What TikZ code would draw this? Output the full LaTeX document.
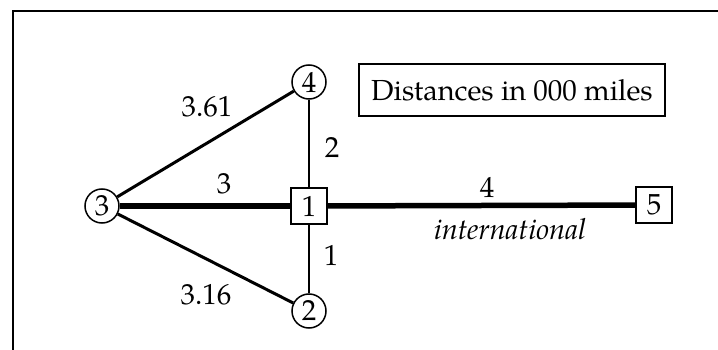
\documentclass[tikz,border=0pt]{standalone}
\usepackage{fontspec}
\setmainfont{TeX Gyre Pagella}
\begin{document}
\begin{tikzpicture}[x=1pt,y=-1pt,
  every node/.style={font=\fontsize{29}{34}\selectfont, inner sep=0pt},
  cnode/.style={draw, circle, line width=1.5pt, minimum size=34pt},
  bnode/.style={draw, rectangle, line width=1.5pt, minimum size=36pt},
  thickedge/.style={line width=5.5pt},
  diagedge/.style={line width=3pt},
  vertedge/.style={line width=2.5pt},
  frameline/.style={line width=2pt}]
\useasboundingbox (0,0) rectangle (718,350);
% frame
\coordinate (ftr) at (718,11);
\coordinate (ftl) at (13,11);
\coordinate (fbl) at (13,350);
\draw[frameline] (ftr) -- (ftl) -- (fbl);
% nodes
\node[cnode] (n3) at (102,206) {3};
\node[bnode] (n1) at (309,206) {1};
\node[cnode] (n4) at (309,82) {4};
\node[cnode] (n2) at (309,311) {2};
\node[bnode] (n5) at (654,205) {5};
\node[draw, line width=1.5pt, minimum width=306pt, minimum height=52pt] (legend) at (512,90) {Distances in 000 miles};
% edges
\draw[diagedge] (n3) -- (n4);
\draw[diagedge] (n3) -- (n2);
\draw[vertedge] (n4) -- (n1);
\draw[vertedge] (n1) -- (n2);
\draw[thickedge] (n3) -- (n1);
\draw[thickedge] (n1) -- (n5);
% labels
\node (l361) at (207,107) {3.61};
\node (l316) at (206,295) {3.16};
\node (l2) at (332,148) {2};
\node (l3) at (224,184) {3};
\node (l1) at (331,255) {1};
\node (l4) at (487,187) {4};
\node[anchor=base] (lint) at (510,240) {\itshape international};
\end{tikzpicture}
\end{document}
